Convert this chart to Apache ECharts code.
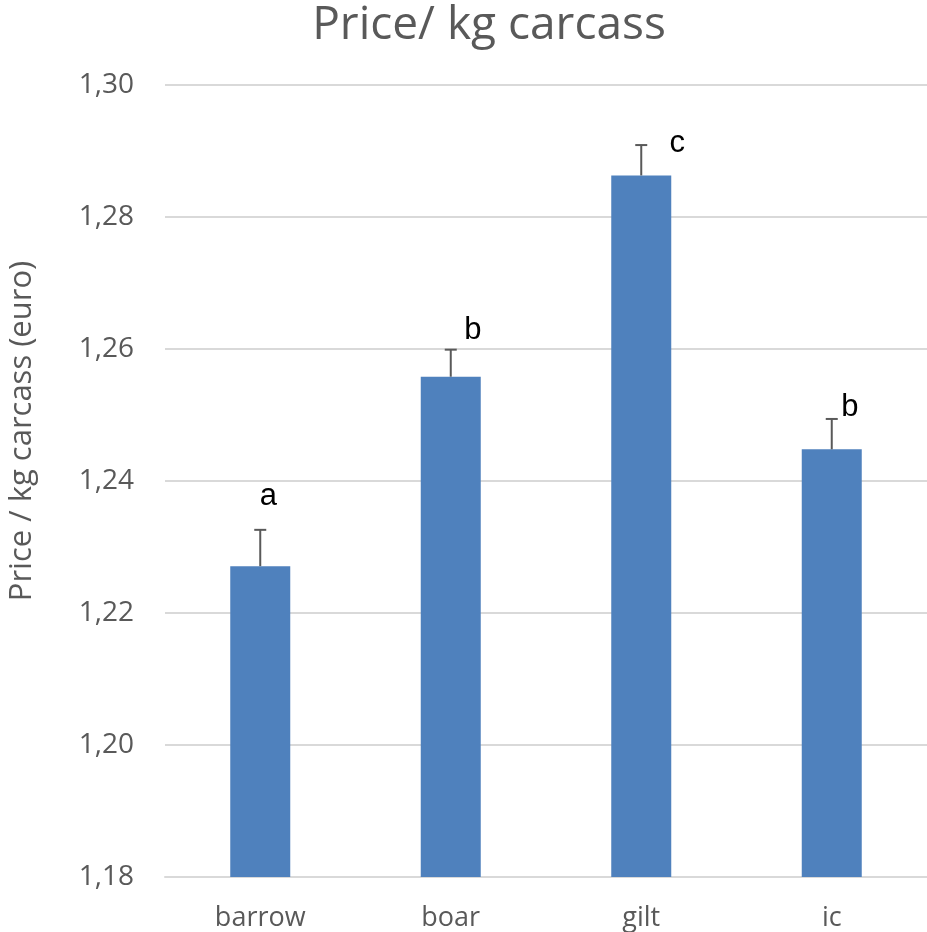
<!DOCTYPE html>
<html>
<head>
<meta charset="utf-8">
<script src="https://cdn.jsdelivr.net/npm/echarts@6/dist/echarts.min.js"></script>
<style>
  html, body { margin: 0; padding: 0; background: #fff; }
  #chart { width: 927px; height: 932px; }
</style>
</head>
<body>
<div id="chart"></div>
<script>
// Carcass price per kg by sex category, with standard error and significance letters
const categories = ['barrow', 'boar', 'gilt', 'ic'];
const meanPrice = [1.2271, 1.2558, 1.2863, 1.2448];
const stdError = [0.0055, 0.0041, 0.0046, 0.0046];
const sigLetters = ['a', 'b', 'c', 'b'];
const yTicks = [1.18, 1.20, 1.22, 1.24, 1.26, 1.28, 1.30];

// letter placement relative to the top of each error bar (pixels)
const letterShift = [[8, -33], [22, -19], [36, -2], [18, -12]];

const textColor = '#595959';
const fontFamily = '"Open Sans", "DejaVu Sans", sans-serif';

const errData = categories.map((c, i) => [i, meanPrice[i], meanPrice[i] + stdError[i], sigLetters[i]]);

const chart = echarts.init(document.getElementById('chart'), null, { renderer: 'canvas' });
chart.setOption({
  animation: false,
  backgroundColor: '#ffffff',
  title: {
    text: 'Price/ kg carcass',
    left: 484,
    textAlign: 'center',
    top: -2,
    textStyle: { fontFamily: fontFamily, fontSize: 46, fontWeight: 'normal', color: textColor }
  },
  graphic: [{
    type: 'text',
    x: 22,
    y: 431,
    rotation: Math.PI / 2,
    style: {
      text: 'Price / kg carcass (euro)',
      fill: textColor,
      font: '31px "Open Sans", sans-serif',
      textAlign: 'center',
      textVerticalAlign: 'middle'
    }
  }],
  grid: { left: 165, right: 0, top: 85, bottom: 55, containLabel: false },
  xAxis: {
    type: 'category',
    data: categories,
    axisTick: { show: false },
    axisLine: { show: true, lineStyle: { color: '#d9d9d9', width: 2 } },
    axisLabel: { color: textColor, fontFamily: fontFamily, fontSize: 27, margin: 28 }
  },
  yAxis: {
    type: 'value',
    min: yTicks[0],
    max: yTicks[yTicks.length - 1],
    interval: 0.02,
    axisLine: { show: false },
    axisTick: { show: false },
    axisLabel: {
      color: textColor, fontFamily: fontFamily, fontSize: 28, margin: 31,
      formatter: v => v.toFixed(2).replace('.', ',')
    },
    splitLine: { lineStyle: { color: '#d9d9d9', width: 2 } }
  },
  series: [
    {
      type: 'bar',
      data: meanPrice,
      barWidth: 60,
      itemStyle: { color: '#4f81bd' },
      z: 2
    },
    {
      type: 'custom',
      data: errData,
      z: 3,
      renderItem: function (params, api) {
        const i = api.value(0);
        const base = api.coord([i, api.value(1)]);
        const top = api.coord([i, api.value(2)]);
        const half = 6;
        const sh = letterShift[i];
        return {
          type: 'group',
          children: [
            { type: 'line', shape: { x1: base[0], y1: base[1], x2: top[0], y2: top[1] },
              style: { stroke: '#595959', lineWidth: 2 } },
            { type: 'line', shape: { x1: top[0] - half, y1: top[1], x2: top[0] + half, y2: top[1] },
              style: { stroke: '#595959', lineWidth: 2 } },
            { type: 'text', x: top[0] + sh[0], y: top[1] + sh[1],
              style: { text: sigLetters[i], fill: '#000000', font: '31px "Liberation Sans", Arial, sans-serif',
                       textAlign: 'center', textVerticalAlign: 'middle' } }
          ]
        };
      }
    }
  ]
});
</script>
</body>
</html>
